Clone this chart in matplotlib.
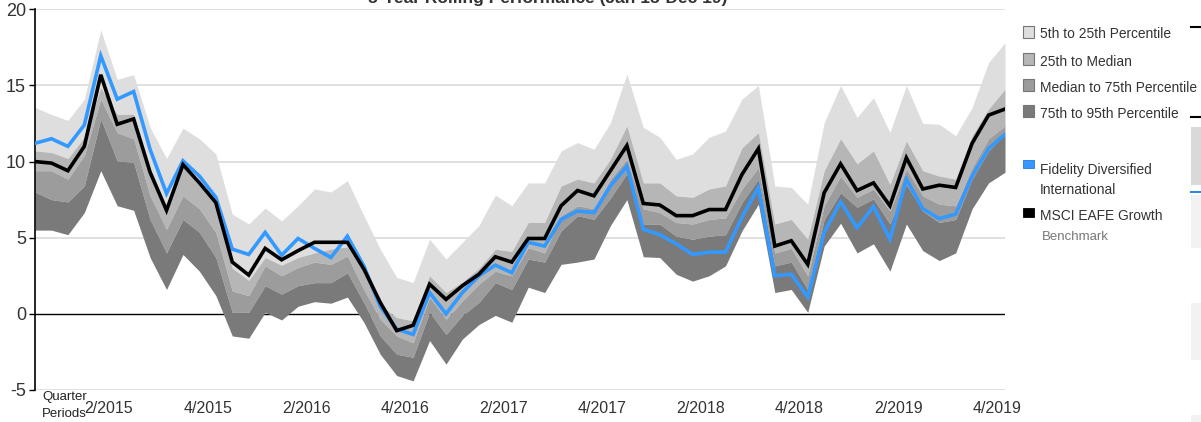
import numpy as np
import matplotlib
matplotlib.use("Agg")
import matplotlib.pyplot as plt
from matplotlib.patches import Rectangle
from matplotlib.lines import Line2D

plt.rcParams["font.family"] = ["Liberation Sans", "DejaVu Sans"]
plt.rcParams["axes.unicode_minus"] = False

# 5-year rolling returns, monthly, Jan 2015 - Dec 2019
p5 = [13.55, 13.1, 12.7, 14.1, 18.65, 15.4, 15.7, 12.25, 10.2, 12.2, 11.5, 10.5,
      6.55, 5.9, 6.95, 6.1, 7.1, 8.2, 8.0, 8.75, 6.45, 4.25, 2.4, 2.05,
      4.9, 3.6, 4.7, 5.8, 7.8, 7.1, 8.6, 8.6, 10.7, 11.25, 10.8, 12.55,
      15.75, 12.25, 11.6, 10.15, 10.5, 11.6, 12.0, 14.1, 15.0, 8.4, 8.3, 7.2,
      12.55, 15.0, 12.9, 14.2, 11.9, 15.0, 12.5, 12.45, 11.7, 13.55, 16.5, 17.8]
p25 = [10.7, 10.6, 10.2, 11.6, 14.85, 13.1, 13.1, 9.6, 7.1, 9.7, 8.4, 7.1,
       3.0, 2.2, 3.7, 3.2, 3.7, 4.0, 4.25, 4.4, 2.8, 0.6, -0.25, -0.45,
       2.5, 1.4, 2.1, 3.0, 4.25, 4.1, 6.0, 6.0, 8.4, 8.85, 8.6, 10.15,
       12.35, 8.6, 8.6, 7.75, 7.65, 8.2, 8.4, 10.9, 11.9, 5.9, 6.2, 4.9,
       9.4, 11.5, 9.85, 10.7, 8.5, 11.35, 9.4, 9.05, 8.85, 11.7, 13.45, 14.75]
p50 = [9.4, 9.4, 8.85, 10.4, 14.1, 11.9, 11.5, 7.75, 5.56, 7.75, 6.9, 5.35,
       1.5, 1.2, 3.15, 2.5, 3.05, 3.4, 3.25, 3.8, 1.6, -0.35, -1.45, -1.9,
       1.1, -0.35, 0.85, 1.95, 2.8, 2.5, 4.35, 4.0, 6.45, 7.1, 6.9, 8.85,
       10.15, 6.9, 6.65, 6.0, 5.9, 6.2, 6.3, 8.2, 9.6, 4.0, 4.3, 2.5,
       7.1, 9.05, 7.65, 8.2, 6.75, 9.5, 7.75, 7.2, 7.1, 9.6, 11.5, 12.35]
p75 = [8.0, 7.5, 7.35, 8.4, 12.8, 10.05, 9.95, 6.2, 4.0, 6.2, 5.35, 3.7,
       0.1, 0.1, 1.85, 1.3, 1.85, 2.05, 2.05, 2.7, 0.75, -1.45, -2.65, -2.85,
       0.1, -1.35, -0.1, 0.75, 2.05, 1.6, 3.6, 3.4, 5.45, 6.45, 6.2, 7.6,
       9.2, 5.9, 5.9, 5.1, 4.9, 5.1, 5.2, 7.3, 8.85, 3.15, 3.4, 1.6,
       6.2, 7.95, 7.0, 7.55, 5.9, 8.5, 6.75, 6.0, 6.2, 8.85, 10.7, 11.8]
p95 = [5.5, 5.5, 5.2, 6.65, 9.4, 7.1, 6.8, 3.7, 1.6, 3.9, 2.8, 1.2,
       -1.45, -1.6, 0.1, -0.4, 0.5, 0.8, 0.7, 1.1, -0.55, -2.65, -4.05, -4.4,
       -1.75, -3.3, -1.65, -0.7, -0.1, -0.55, 1.75, 1.4, 3.25, 3.4, 3.6, 5.8,
       7.5, 3.75, 3.7, 2.6, 2.15, 2.5, 3.15, 5.45, 7.2, 1.4, 1.6, 0.1,
       4.45, 5.95, 4.0, 4.6, 2.8, 5.9, 4.15, 3.5, 4.0, 6.9, 8.6, 9.3]
fund = [11.2, 11.5, 11.0, 12.4, 16.95, 14.1, 14.6, 10.8, 7.9, 10.05, 9.05, 7.65,
        4.25, 3.9, 5.35, 3.85, 4.95, 4.3, 3.7, 5.1, 3.15, 0.5, -1.0, -1.35,
        1.4, 0.0, 1.4, 2.5, 3.2, 2.7, 4.7, 4.45, 6.2, 6.75, 6.65, 8.4,
        9.7, 5.55, 5.2, 4.6, 3.9, 4.05, 4.05, 6.35, 8.3, 2.5, 2.6, 1.1,
        5.35, 7.35, 5.65, 7.05, 4.9, 8.85, 6.9, 6.25, 6.55, 9.05, 10.85, 11.8]
bench = [10.0, 9.9, 9.4, 11.0, 15.7, 12.45, 12.8, 9.3, 6.8, 9.8, 8.6, 7.3,
         3.4, 2.55, 4.3, 3.55, 4.15, 4.7, 4.7, 4.7, 2.95, 0.75, -1.1, -0.75,
         1.95, 0.95, 1.85, 2.6, 3.75, 3.4, 4.95, 4.95, 7.1, 8.1, 7.75, 9.4,
         11.05, 7.25, 7.15, 6.45, 6.45, 6.85, 6.85, 9.15, 10.85, 4.45, 4.8, 3.25,
         7.95, 9.85, 8.1, 8.6, 7.1, 10.25, 8.2, 8.45, 8.3, 11.2, 13.05, 13.45]

tick_labels = ["2/2015", "4/2015", "2/2016", "4/2016", "2/2017",
               "4/2017", "2/2018", "4/2018", "2/2019", "4/2019"]
band_labels = ["5th to 25th Percentile", "25th to Median",
               "Median to 75th Percentile", "75th to 95th Percentile"]
band_colors = ["#dedede", "#b6b6b6", "#9c9c9c", "#7a7a7a"]
fund_name = ["Fidelity Diversified", "International"]
bench_name = "MSCI EAFE Growth"

W, H = 1201, 422
fig = plt.figure(figsize=(W / 100, H / 100), dpi=100)
ax = fig.add_axes([35 / W, 1 - 390 / H, 970 / W, 380.7 / H])

x = np.arange(len(p5))
bounds = [p5, p25, p50, p75, p95]
for i in range(4):
    ax.fill_between(x, bounds[i], bounds[i + 1], color=band_colors[i], lw=0, zorder=2)

ax.plot(x, fund, color="#3399ff", lw=2.6, zorder=4, solid_joinstyle="miter")
ax.plot(x, bench, color="black", lw=2.6, zorder=5, solid_joinstyle="miter")

ax.set_xlim(0, len(p5) - 1)
ax.set_ylim(-5, 20)
ax.set_yticks([-5, 0, 5, 10, 15, 20])
for v in [-5, 5, 10, 15, 20]:
    ax.axhline(v, color="#e0e0e0", lw=1.4, zorder=1)
ax.axhline(0, color="black", lw=1.0, zorder=1.5)

ax.set_xticks(4.5 + 6 * np.arange(len(tick_labels)))
ax.set_xticklabels(tick_labels)
ax.tick_params(axis="x", length=0, pad=8, labelsize=11.5, labelcolor="#333333")
ax.tick_params(axis="y", length=4.5, width=1, pad=2, labelsize=13, labelcolor="#333333")
for s in ["top", "right", "bottom"]:
    ax.spines[s].set_visible(False)
ax.spines["left"].set_linewidth(1.2)

fig.text(42 / W, 1 - 397 / H, "Quarter", fontsize=9.5, color="#222222", va="center")
fig.text(42 / W, 1 - 414 / H, "Periods", fontsize=9.5, color="#222222", va="center")

fig.text(548 / W, 1 + 2 / H, "5-Year Rolling Performance (Jan 15-Dec 19)",
         fontsize=12.5, fontweight="bold", color="#333333", ha="center", va="center")

# legend, drawn by hand
leg_fs = 9.9
sw_x = 1023
for lab, col, yc in zip(band_labels, band_colors, [31.5, 58.5, 85, 111]):
    fig.add_artist(Rectangle((sw_x / W, 1 - (yc + 6) / H), 11 / W, 12 / H,
                             facecolor=col, edgecolor="#777777", lw=0.8,
                             transform=fig.transFigure))
    fig.text(1040 / W, 1 - (yc + 3) / H, lab, fontsize=leg_fs, color="#333333", va="center")

fig.add_artist(Rectangle((sw_x / W, 1 - 168 / H), 11 / W, 8 / H,
                         facecolor="#3399ff", edgecolor="#2277dd", lw=0.6,
                         transform=fig.transFigure))
fig.text(1040 / W, 1 - 170 / H, fund_name[0], fontsize=leg_fs, color="#333333", va="center")
fig.text(1040 / W, 1 - 190 / H, fund_name[1], fontsize=leg_fs, color="#333333", va="center")
fig.add_artist(Rectangle((sw_x / W, 1 - 217 / H), 11 / W, 9 / H,
                         facecolor="black", edgecolor="black", lw=0.6,
                         transform=fig.transFigure))
fig.text(1040 / W, 1 - 216 / H, bench_name, fontsize=leg_fs, color="#333333", va="center")
fig.text(1042 / W, 1 - 237 / H, "Benchmark", fontsize=9.5, color="#777777", va="center")

# edge of the neighbouring panel
for yc in [26.7, 116.7]:
    fig.add_artist(Line2D([1191 / W, 1], [1 - yc / H] * 2, color="black", lw=1.5,
                          transform=fig.transFigure))
fig.add_artist(Line2D([1191 / W, 1], [1 - 191.7 / H] * 2, color="#3388dd", lw=1.5,
                      transform=fig.transFigure))
for (y0, y1, c) in [(126.7, 185, "#d9d9d9"), (195, 248, "#f2f2f2"),
                    (303, 360, "#f2f2f2"), (415, 422, "#f2f2f2")]:
    fig.add_artist(Rectangle((1191 / W, 1 - y1 / H), 10 / W, (y1 - y0) / H,
                             facecolor=c, lw=0, transform=fig.transFigure))

fig.savefig("out.png", dpi=100)
